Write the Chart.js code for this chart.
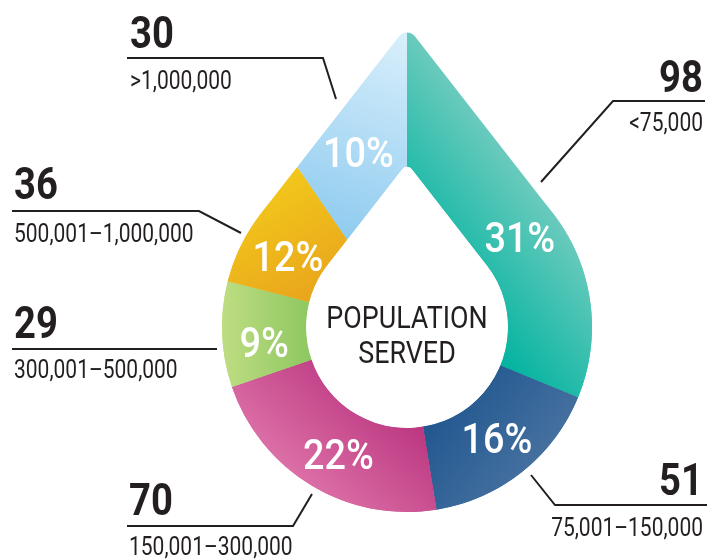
<!DOCTYPE html>
<html>
<head>
<meta charset="utf-8">
<script src="https://cdn.jsdelivr.net/npm/chart.js@4.4.1/dist/chart.umd.min.js"></script>
<style>
  html, body { margin: 0; padding: 0; background: #fff; }
  #wrap { width: 707px; height: 559px; }
</style>
</head>
<body>
<div id="wrap"><canvas id="dropChart" width="707" height="559"></canvas></div>
<script>
// Population served, slices clockwise from the tip of the drop
const categories = ['<75,000', '75,001–150,000', '150,001–300,000', '300,001–500,000', '500,001–1,000,000', '>1,000,000'];
const counts = [98, 51, 70, 29, 36, 30];
const shares = ['31%', '16%', '22%', '9%', '12%', '10%'];
const centerTitle = ['POPULATION', 'SERVED'];

// gradient per slice, ends given relative to the centre in units of the outer radius
const sliceGradients = [
    { from: [1.0, -0.6], to: [0.3, -0.05], colors: ['#80cfc3', '#00b39f'] },
    { from: [0.1, 0.25], to: [0.85, 0.85], colors: ['#17508a', '#5078a5'] },
    { from: [0.05, 0.5], to: [-0.4, 1.0], colors: ['#bb3680', '#dc70a7'] },
    { from: [-1.0, 0], to: [-0.5, 0], colors: ['#bedd82', '#8cc65f'] },
    { from: [-0.8, -0.8], to: [-0.45, -0.2], colors: ['#f3ca1b', '#e9a61c'] },
    { from: [0, -1.55], to: [-0.4, -0.45], colors: ['#d7eefb', '#8ccaef'] }
];

// small hand nudges of the percentage labels, in px
const shareNudge = [[-6, -10], [1, -1], [5, 4], [0, 9], [-2, 11], [3, -9]];

// callout text and leader lines (same order as the slices)
const callouts = [
    { align: 'right', x: 703, numY: 92, subY: 131, line: [[705, 101], [613, 101], [541, 182]] },
    { align: 'right', x: 703, numY: 495, subY: 536, line: [[707, 505], [555, 505], [531, 475]] },
    { align: 'left', x: 129, numY: 515, subY: 555, line: [[127, 526], [293, 526], [312, 494]] },
    { align: 'left', x: 14, numY: 338, subY: 378, line: [[12, 349], [217, 349]] },
    { align: 'left', x: 14, numY: 199, subY: 242, line: [[12, 211], [199, 211], [241, 233]] },
    { align: 'left', x: 130, numY: 48, subY: 89, line: [[127, 58], [323, 58], [336, 99]] }
];

const INK = '#231f20';
const SIN_A = 0.615;                       // half angle of the drop tip
const COS_A = Math.sqrt(1 - SIN_A * SIN_A);
const BETA = Math.acos(SIN_A);             // where the straight sides meet the circle

function dropPath(ctx, cx, cy, r, tip) {
    const d = r / SIN_A;
    const ly = cy - r * SIN_A;
    ctx.moveTo(cx - r * COS_A, ly);
    ctx.arcTo(cx, cy - d, cx + r * COS_A, ly, tip);
    ctx.lineTo(cx + r * COS_A, ly);
    ctx.arc(cx, cy, r, -Math.asin(SIN_A), Math.PI + Math.asin(SIN_A), false);
    ctx.closePath();
}

function text(ctx, s, x, y, font, align, color, sx) {
    ctx.save();
    ctx.font = font;
    ctx.fillStyle = color;
    ctx.textAlign = align;
    ctx.textBaseline = 'alphabetic';
    ctx.translate(x, y);
    ctx.scale(sx, 1);
    ctx.fillText(s, 0, 0);
    ctx.restore();
}

const dropPlugin = {
    id: 'dropPlugin',
    afterDatasetsDraw(chart) {
        const ctx = chart.ctx;
        const meta = chart.getDatasetMeta(0);
        const first = meta.data[0];
        const cx = first.x, cy = first.y;
        const R = first.outerRadius, r0 = first.innerRadius;

        ctx.save();
        // the hole is a drop as well
        ctx.beginPath();
        dropPath(ctx, cx, cy, r0, 6);
        ctx.fillStyle = '#fff';
        ctx.fill();

        // stretch every slice out to the drop outline
        meta.data.forEach((arc) => {
            ctx.save();
            ctx.beginPath();
            ctx.moveTo(cx, cy);
            ctx.arc(cx, cy, R * 3, arc.startAngle, arc.endAngle);
            ctx.closePath();
            ctx.clip();
            ctx.beginPath();
            dropPath(ctx, cx, cy, R, 10);
            dropPath(ctx, cx, cy, r0, 6);
            ctx.fillStyle = arc.options.backgroundColor;
            ctx.fill('evenodd');
            ctx.restore();
        });

        // percentages in the middle of each band
        meta.data.forEach((arc, i) => {
            const mid = (arc.startAngle + arc.endAngle) / 2;
            let fromTop = mid + Math.PI / 2;
            while (fromTop > Math.PI) fromTop -= 2 * Math.PI;
            let rad = (R + r0) / 2;
            if (Math.abs(fromTop) < BETA) rad = rad / Math.cos(BETA - Math.abs(fromTop));
            const px = cx + rad * Math.cos(mid) + shareNudge[i][0];
            const py = cy + rad * Math.sin(mid) + shareNudge[i][1];
            text(ctx, shares[i], px, py + 15, '500 42px Roboto', 'center', '#fff', 0.9);
        });

        // centre title
        text(ctx, centerTitle[0], cx, cy + 1, '32px Roboto', 'center', INK, 0.84);
        text(ctx, centerTitle[1], cx, cy + 36, '32px Roboto', 'center', INK, 0.84);

        // callouts
        callouts.forEach((c, i) => {
            text(ctx, String(counts[i]), c.x, c.numY, 'bold 45px Roboto', c.align, INK, 0.85);
            text(ctx, categories[i], c.x, c.subY, '25px Roboto', c.align, INK, 0.84);
            ctx.beginPath();
            c.line.forEach((p, k) => (k === 0 ? ctx.moveTo(p[0], p[1]) : ctx.lineTo(p[0], p[1])));
            ctx.strokeStyle = INK;
            ctx.lineWidth = 2;
            ctx.lineJoin = 'miter';
            ctx.stroke();
        });
        ctx.restore();
    }
};

const ctx = document.getElementById('dropChart').getContext('2d');
const dropChart = new Chart(ctx, {
    type: 'doughnut',
    data: {
        labels: categories,
        datasets: [{
            data: counts,
            borderWidth: 0,
            hoverOffset: 0,
            backgroundColor: (c) => {
                const chart = c.chart;
                const a = chart.chartArea;
                const g = sliceGradients[c.dataIndex];
                if (!a || !g) return '#cccccc';
                const cx = (a.left + a.right) / 2, cy = (a.top + a.bottom) / 2;
                const R = Math.min(a.width, a.height) / 2;
                const grad = chart.ctx.createLinearGradient(
                    cx + g.from[0] * R, cy + g.from[1] * R,
                    cx + g.to[0] * R, cy + g.to[1] * R);
                grad.addColorStop(0, g.colors[0]);
                grad.addColorStop(1, g.colors[1]);
                return grad;
            }
        }]
    },
    options: {
        responsive: false,
        devicePixelRatio: 1,
        animation: false,
        events: [],
        rotation: 0,
        cutout: 101,
        radius: 185,
        layout: { padding: { left: 222, right: 115, top: 142, bottom: 47 } },
        plugins: {
            legend: { display: false },
            tooltip: { enabled: false }
        }
    },
    plugins: [dropPlugin]
});
</script>
</body>
</html>
